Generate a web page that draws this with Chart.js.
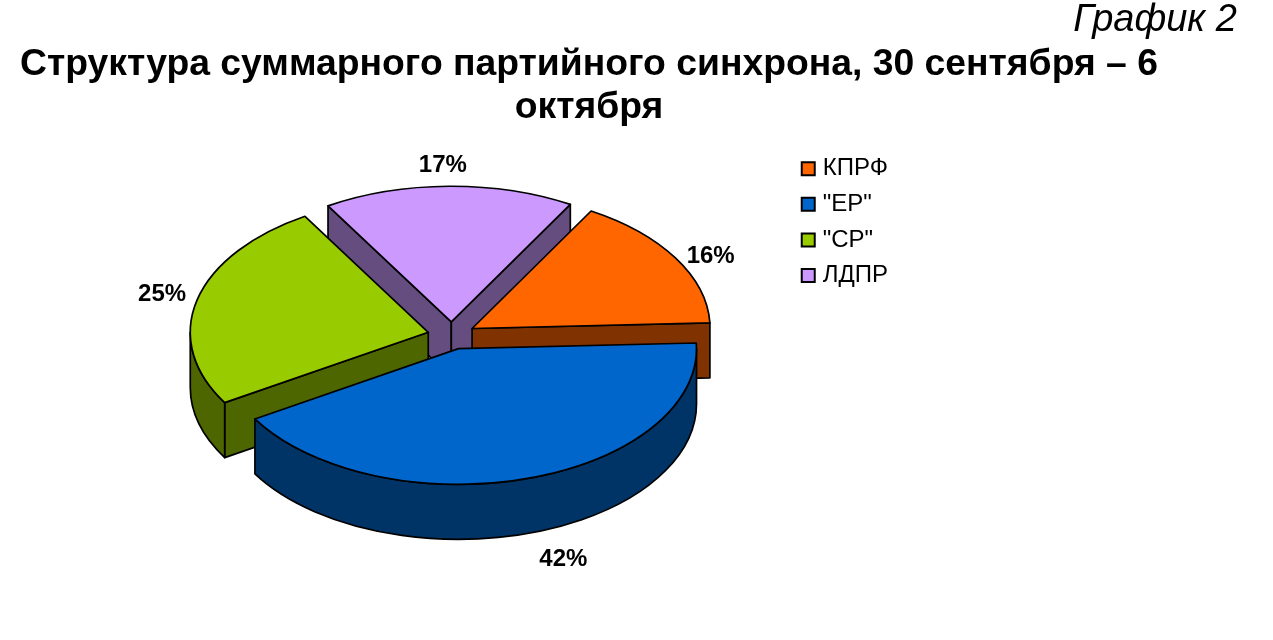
<!DOCTYPE html>
<html>
<head>
<meta charset="utf-8">
<title>График 2</title>
<script src="https://cdn.jsdelivr.net/npm/chart.js@4"></script>
<style>
html, body { margin: 0; padding: 0; background: #fff; }
canvas { display: block; }
</style>
</head>
<body>
<canvas id="pie" width="1273" height="640"></canvas>
<script>
// data
var parties = ['КПРФ', '"ЕР"', '"СР"', 'ЛДПР'];
var shares = [16, 42, 25, 17];
var topColors = ['#FF6600', '#0066CC', '#99CC00', '#CC99FF'];
var wallColors = ['#803300', '#003366', '#4D6600', '#664D80'];

var chartTitle = ['Структура суммарного партийного синхрона, 30 сентября – 6', 'октября'];
var chartNumber = 'График 2';

// look of the fake 3d pie
var squash = 0.57;
var depth = 55;
var explode = 24;
var edgeWidth = 1.7;
var labelFont = 'bold 24px "Liberation Sans"';
// label distance from the middle of the rim, px
var labelNudge = [[35, -2], [36, 81], [-35, -6], [-6, -21]];

function shiftOf(arc) {
    var mid = (arc.startAngle + arc.endAngle) / 2;
    return { x: Math.cos(mid) * explode, y: Math.sin(mid) * explode * squash };
}

function pointAt(arc, angle, radius, drop) {
    var s = shiftOf(arc);
    return {
        x: arc.x + s.x + Math.cos(angle) * radius,
        y: arc.y + s.y + Math.sin(angle) * radius * squash + drop
    };
}

// adds an elliptic arc to the current path, line width stays untouched
function ellipseArc(ctx, arc, from, to, drop, back) {
    var s = shiftOf(arc);
    ctx.save();
    ctx.translate(arc.x + s.x, arc.y + s.y + drop);
    ctx.scale(1, squash);
    ctx.arc(0, 0, arc.outerRadius, from, to, back);
    ctx.restore();
}

function paint(ctx, fill) {
    ctx.fillStyle = fill;
    ctx.strokeStyle = '#000';
    ctx.lineWidth = edgeWidth;
    ctx.lineJoin = 'round';
    ctx.fill();
    ctx.stroke();
}

function drawCutFace(ctx, arc, angle, fill) {
    var tip = pointAt(arc, angle, 0, 0);
    var rim = pointAt(arc, angle, arc.outerRadius, 0);
    ctx.beginPath();
    ctx.moveTo(tip.x, tip.y);
    ctx.lineTo(rim.x, rim.y);
    ctx.lineTo(rim.x, rim.y + depth);
    ctx.lineTo(tip.x, tip.y + depth);
    ctx.closePath();
    paint(ctx, fill);
}

function drawSlice(ctx, arc, i) {
    var start = arc.startAngle;
    var end = arc.endAngle;

    // only the walls that face the viewer
    if (Math.cos(start) < 0) drawCutFace(ctx, arc, start, wallColors[i]);
    if (Math.cos(end) > 0) drawCutFace(ctx, arc, end, wallColors[i]);

    var lo = Math.max(start, 0);
    var hi = Math.min(end, Math.PI);
    if (hi > lo) {
        ctx.beginPath();
        ellipseArc(ctx, arc, lo, hi, 0, false);
        ellipseArc(ctx, arc, hi, lo, depth, true);
        ctx.closePath();
        paint(ctx, wallColors[i]);
    }

    // top
    var tip = pointAt(arc, start, 0, 0);
    ctx.beginPath();
    ctx.moveTo(tip.x, tip.y);
    ellipseArc(ctx, arc, start, end, 0, false);
    ctx.closePath();
    paint(ctx, topColors[i]);
}

var pie3d = {
    id: 'pie3d',
    afterLayout: function (chart) {
        // the title blocks do not sit in the middle of the page
        chart.titleBlock.left = 18;
        chart.titleBlock.right = 1160;
        chart.subtitleBlock = chart.boxes.filter(function (b) {
            return b.options && b.options.text === chartNumber;
        })[0];
        if (chart.subtitleBlock) chart.subtitleBlock.right = 1237;
        chart.legend.top += 6;
    },
    beforeDatasetsDraw: function (chart) {
        var ctx = chart.ctx;
        var arcs = chart.getDatasetMeta(0).data;

        // back slices first
        var order = arcs.map(function (a, i) { return i; });
        order.sort(function (p, q) {
            return Math.sin((arcs[p].startAngle + arcs[p].endAngle) / 2) -
                Math.sin((arcs[q].startAngle + arcs[q].endAngle) / 2);
        });
        order.forEach(function (i) { drawSlice(ctx, arcs[i], i); });

        // percent labels
        ctx.fillStyle = '#000';
        ctx.font = labelFont;
        ctx.textAlign = 'center';
        ctx.textBaseline = 'middle';
        arcs.forEach(function (arc, i) {
            var mid = (arc.startAngle + arc.endAngle) / 2;
            var p = pointAt(arc, mid, arc.outerRadius, 0);
            ctx.fillText(shares[i] + '%', p.x + labelNudge[i][0], p.y + labelNudge[i][1]);
        });
        return false;
    }
};

var myChart = new Chart(document.getElementById('pie').getContext('2d'), {
    type: 'pie',
    data: {
        labels: parties,
        datasets: [{
            data: shares,
            backgroundColor: topColors,
            borderColor: '#000',
            borderWidth: 2
        }]
    },
    options: {
        responsive: false,
        animation: false,
        events: [],
        rotation: 30,
        radius: 238,
        layout: { padding: { left: 109, right: 375, bottom: 108 } },
        font: { family: '"Liberation Sans"' },
        plugins: {
            tooltip: { enabled: false },
            subtitle: {
                display: true,
                text: chartNumber,
                align: 'end',
                color: '#000',
                weight: 3000,
                font: { family: '"Liberation Sans"', size: 38, style: 'italic', weight: 'normal', lineHeight: 1.1 },
                padding: { top: 0, bottom: 0 }
            },
            title: {
                display: true,
                text: chartTitle,
                color: '#000',
                font: { family: '"Liberation Sans"', size: 37.3, weight: 'bold', lineHeight: 1.16 },
                padding: { top: 0.8, bottom: 10 }
            },
            legend: {
                position: 'right',
                align: 'start',
                fullSize: false,
                labels: {
                    color: '#000',
                    usePointStyle: true,
                    pointStyle: 'rect',
                    boxWidth: 5,
                    boxHeight: 13,
                    padding: 11.6,
                    font: { family: '"Liberation Sans"', size: 24 }
                }
            }
        }
    },
    plugins: [pie3d]
});
</script>
</body>
</html>
